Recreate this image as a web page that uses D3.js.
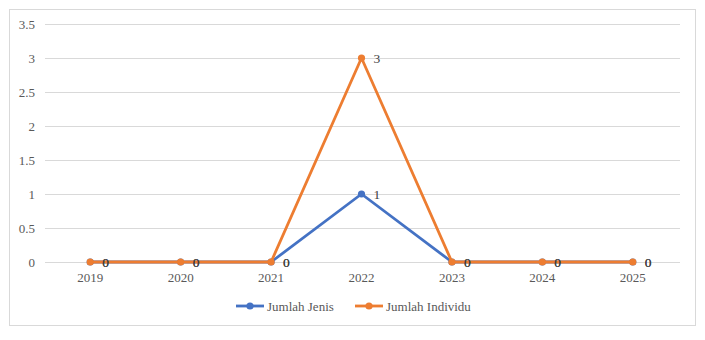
<!DOCTYPE html>
<html><head><meta charset="utf-8">
<script src="https://cdn.jsdelivr.net/npm/d3@7"></script>
<style>body{margin:0;background:#fff}svg{display:block}</style>
</head><body>
<svg id="c" width="705" height="340"></svg>
<script>
const categories = ["2019","2020","2021","2022","2023","2024","2025"];
const jumlahJenis = [0,0,0,1,0,0,0];
const jumlahIndividu = [0,0,0,3,0,0,0];
const yTicks = [0,0.5,1,1.5,2,2.5,3,3.5];
const seriesNames = ["Jumlah Jenis","Jumlah Individu"];
const colors = ["#4472C4","#ED7D31"];
const FF = '"Liberation Serif"';

const svg = d3.select("#c");
svg.append("rect").attr("x",9.5).attr("y",9.5).attr("width",686).attr("height",316)
  .attr("fill","#fff").attr("stroke","#d9d9d9");

const x = d3.scaleBand().domain(categories).range([45,678]);
const y = d3.scaleLinear().domain([0,3.5]).range([262,24]);

const g = svg.append("g");
yTicks.forEach(t=>{
  g.append("line").attr("x1",45).attr("x2",680).attr("y1",Math.round(y(t))+0.5).attr("y2",Math.round(y(t))+0.5)
    .attr("stroke","#d9d9d9").attr("stroke-width",1);
});
const yAxis = d3.axisLeft(y).tickValues(yTicks).tickSize(0).tickPadding(0).tickFormat(d=>String(d));
const ya = svg.append("g").attr("transform","translate(35,0)").call(yAxis);
ya.select(".domain").remove();
ya.attr("font-family",null);
ya.selectAll("text").style("font-family",FF).style("font-size","13px").attr("fill","#595959");

const xAxis = d3.axisBottom(x).tickSize(0).tickPadding(0);
const xa = svg.append("g").attr("transform","translate(0,273)").call(xAxis);
xa.select(".domain").remove();
xa.attr("font-family",null);
xa.selectAll("text").style("font-family",FF).style("font-size","13px").attr("fill","#595959").attr("dy","0.71em");

const series = [jumlahJenis, jumlahIndividu];
const cx = d=>x(d)+x.bandwidth()/2;
const line = d3.line().x((d,i)=>cx(categories[i])).y(d=>y(d));
series.forEach((s,k)=>{
  svg.append("path").datum(s).attr("d",line).attr("fill","none").attr("stroke",colors[k])
    .attr("stroke-width",2.8).attr("stroke-linejoin","round");
  svg.selectAll(null).data(s).enter().append("circle")
    .attr("cx",(d,i)=>cx(categories[i])).attr("cy",d=>y(d)).attr("r",3.6).attr("fill",colors[k]);
});
series.forEach((s,k)=>{
  svg.selectAll(null).data(s).enter().append("text")
    .attr("x",(d,i)=>cx(categories[i])+12).attr("y",d=>y(d)).attr("dy","0.35em")
    .style("font-family",FF).style("font-size","13.5px").attr("fill","#404040").text(d=>d);
});

// legend
const lg = svg.append("g").attr("transform","translate(0,306)");
const legX = [236, 355];
seriesNames.forEach((n,k)=>{
  lg.append("line").attr("x1",legX[k]).attr("x2",legX[k]+28).attr("y1",0).attr("y2",0)
    .attr("stroke",colors[k]).attr("stroke-width",2.8);
  lg.append("circle").attr("cx",legX[k]+14).attr("cy",0).attr("r",3.6).attr("fill",colors[k]);
  lg.append("text").attr("x",legX[k]+31).attr("y",0).attr("dy","0.35em")
    .style("font-family",FF).style("font-size","13px").attr("fill","#595959").text(n);
});
</script>
</body></html>
